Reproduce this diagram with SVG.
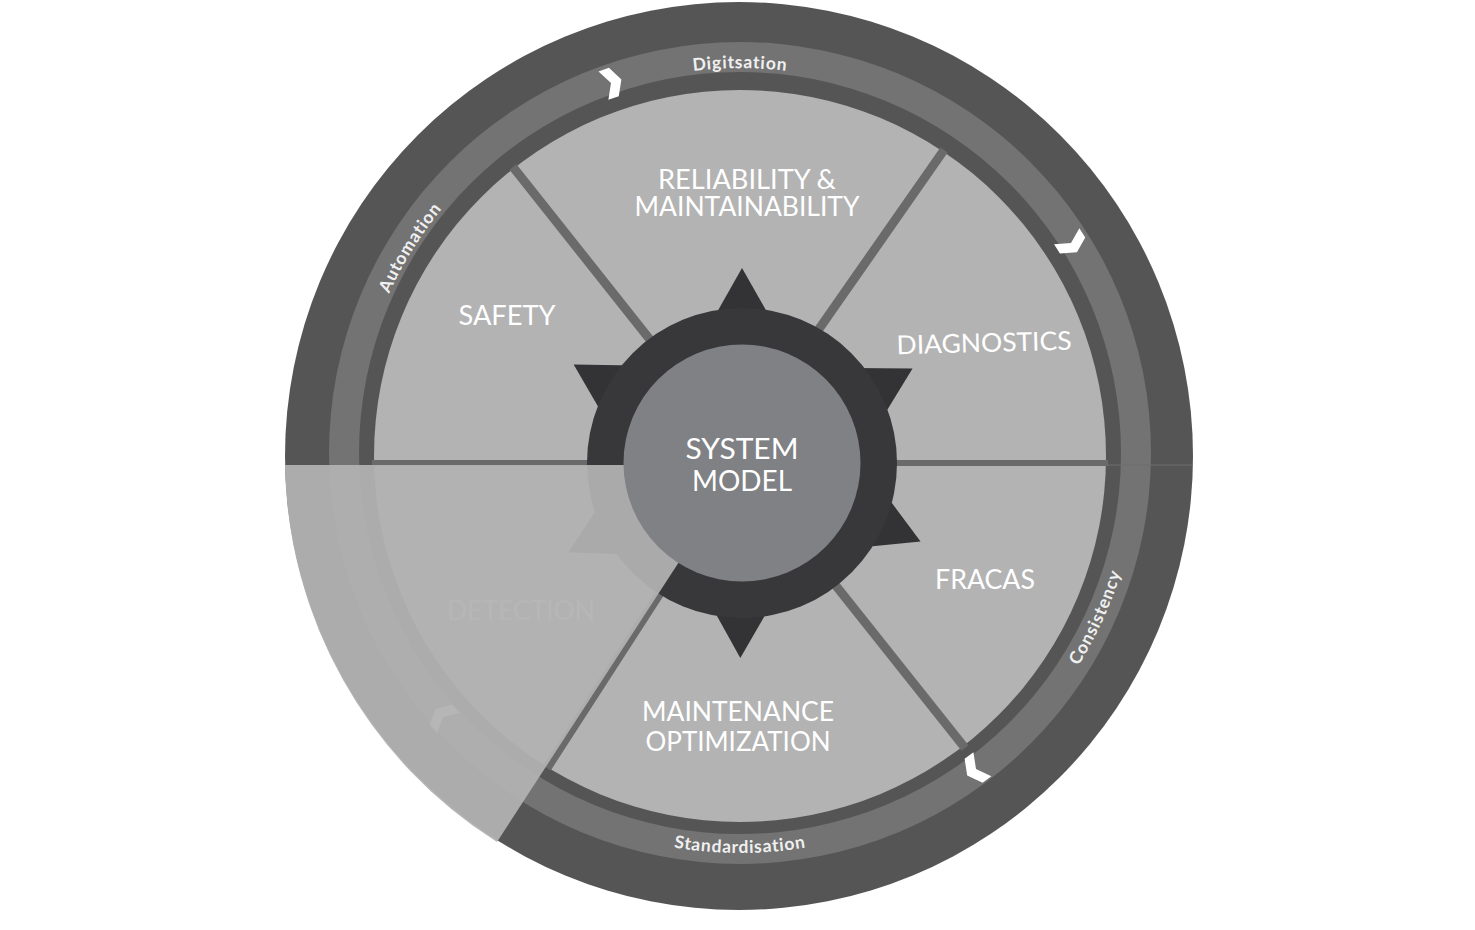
<svg xmlns="http://www.w3.org/2000/svg" width="1475" height="930" viewBox="0 0 1475 930">
  <defs>
    <style>
      .seg { font-family: Lato, "Open Sans", "Liberation Sans", sans-serif; font-size: 26px; fill: #ffffff; text-anchor: middle; }
      .core { font-family: Lato, "Open Sans", "Liberation Sans", sans-serif; font-size: 29px; fill: #ffffff; text-anchor: middle; }
      .band { font-family: Lato, "Open Sans", "Liberation Sans", sans-serif; font-size: 17.5px; font-weight: bold; fill: #f0f0f0; text-anchor: middle; letter-spacing: 0.8px; }
      .div { stroke: #6b6a6b; stroke-width: 9; stroke-linecap: butt; fill: none; }
      .tooth { fill: #333335; }
      .chev { fill: #ffffff; }
    </style>
    <path id="arcTop" d="M 354,454 A 386,386 0 0 1 1126,454"/>
    <path id="arcBot" d="M 341,454 A 399,399 0 0 0 1139,454"/>
    <polygon id="toothShape" points="0,-195 -30,-142 30,-142"/>
    <polygon id="chevShape" points="-8,-15 3,-15 11,0 3,15 -8,15 0,0"/>
  </defs>

  <rect width="1475" height="930" fill="#ffffff"/>

  <g id="outer-ring">
    <circle cx="739" cy="456" r="454" fill="#555555"/>
    <circle cx="740" cy="453" r="411" fill="#737373"/>
    <circle cx="740" cy="453" r="381" fill="#555555"/>
    <line x1="1106" y1="465" x2="1193" y2="465" stroke="#6e6e6e" stroke-width="1.5" opacity="0.7"/>
  </g>

  <g id="band-labels">
    <text class="band"><textPath href="#arcTop" startOffset="50%">Digitsation</textPath></text>
    <text class="band"><textPath href="#arcTop" startOffset="17.8%">Automation</textPath></text>
    <text class="band"><textPath href="#arcBot" startOffset="86.3%">Consistency</textPath></text>
    <text class="band"><textPath href="#arcBot" startOffset="50%">Standardisation</textPath></text>
  </g>

  <g id="arrows">
    <use href="#chevShape" class="chev" transform="translate(611,83) rotate(-19.2)"/>
    <use href="#chevShape" class="chev" transform="translate(1071,243) rotate(57.5)"/>
    <use href="#chevShape" class="chev" transform="translate(976,769) rotate(143.2)"/>
    <use href="#chevShape" class="chev" transform="translate(443,717) rotate(228.5)"/>
  </g>

  <g id="segments">
    <circle cx="740" cy="456" r="366" fill="#b3b3b3"/>
  </g>

  <g id="connectors">
    <line class="div" x1="372" y1="463" x2="1108" y2="463" style="stroke-width:6"/>
    <line class="div" x1="513" y1="167" x2="705" y2="409"/>
    <line class="div" x1="944" y1="150" x2="775" y2="392"/>
    <line class="div" x1="965" y1="748" x2="790" y2="528"/>
    <line class="div" x1="547" y1="768" x2="700" y2="531"/>
  </g>

  <g id="node-reliability">
    <text class="seg" x="747" y="189" textLength="178" lengthAdjust="spacingAndGlyphs">RELIABILITY &amp;</text>
    <text class="seg" x="747" y="216" textLength="225" lengthAdjust="spacingAndGlyphs">MAINTAINABILITY</text>
  </g>
  <g id="node-safety">
    <text class="seg" x="507" y="325" textLength="97" lengthAdjust="spacingAndGlyphs">SAFETY</text>
  </g>
  <g id="node-diagnostics">
    <text class="seg" x="984" y="352" textLength="175" lengthAdjust="spacingAndGlyphs" transform="rotate(-1.5 984 341)">DIAGNOSTICS</text>
  </g>
  <g id="node-fracas">
    <text class="seg" x="985" y="589" textLength="100" lengthAdjust="spacingAndGlyphs">FRACAS</text>
  </g>
  <g id="node-maintenance">
    <text class="seg" x="738" y="721" textLength="192" lengthAdjust="spacingAndGlyphs">MAINTENANCE</text>
    <text class="seg" x="738" y="751" textLength="185" lengthAdjust="spacingAndGlyphs">OPTIMIZATION</text>
  </g>
  <g id="node-detection">
    <text class="seg" x="521" y="620" textLength="148" lengthAdjust="spacingAndGlyphs">DETECTION</text>
  </g>

  <g id="hub">
    <use href="#toothShape" class="tooth" transform="translate(742,463) rotate(0)"/>
    <use href="#toothShape" class="tooth" transform="translate(742,463) rotate(-59.7)"/>
    <use href="#toothShape" class="tooth" transform="translate(742,463) rotate(61)"/>
    <use href="#toothShape" class="tooth" transform="translate(742,463) rotate(113.7)"/>
    <use href="#toothShape" class="tooth" transform="translate(742,463) rotate(180.5)"/>
    <use href="#toothShape" class="tooth" transform="translate(742,463) rotate(242.8)"/>
    <circle cx="742" cy="463" r="155" fill="#38383b"/>
  </g>

  <g id="overlay">
    <path d="M 742,465 L 285,465 A 454,454 0 0 0 497,842 Z" fill="#b1b1b1" opacity="0.94"/>
  </g>

  <g id="node-system-model">
    <circle cx="742" cy="463" r="118.5" fill="#808184"/>
    <text class="core" x="742" y="459" textLength="113" lengthAdjust="spacingAndGlyphs">SYSTEM</text>
    <text class="core" x="742" y="491" textLength="100" lengthAdjust="spacingAndGlyphs">MODEL</text>
  </g>
</svg>
